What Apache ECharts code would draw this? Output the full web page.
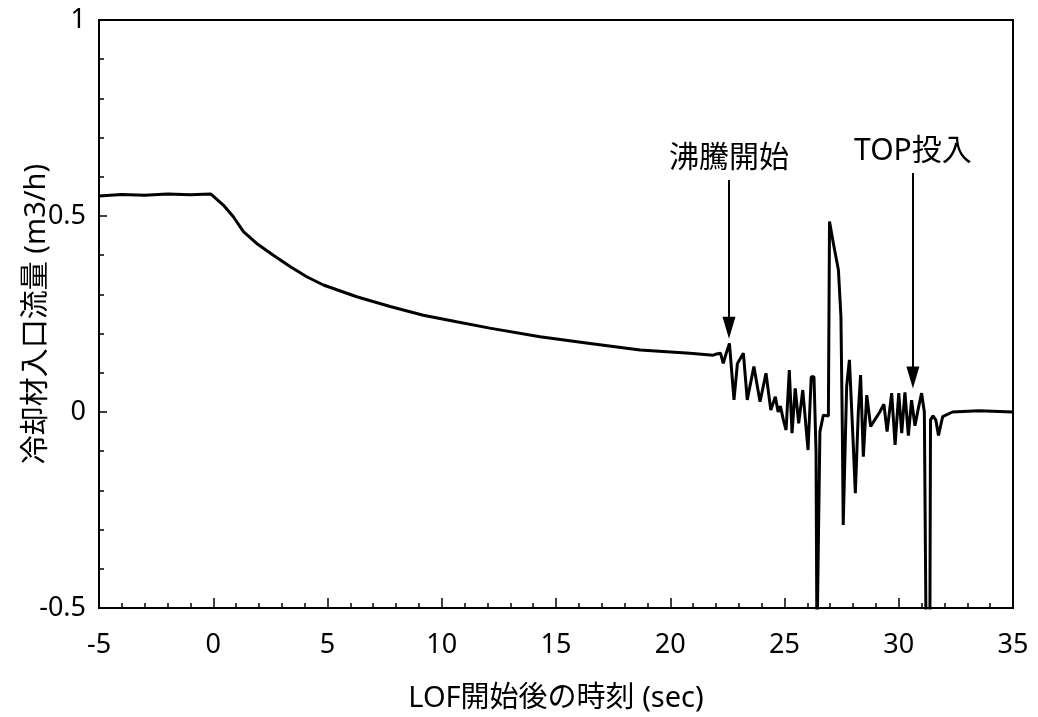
<!DOCTYPE html>
<html>
<head>
<meta charset="utf-8">
<script src="https://cdn.jsdelivr.net/npm/echarts@6/dist/echarts.min.js"></script>
<style>
html,body{margin:0;padding:0;background:#fff;}
#chart{width:1038px;height:717px;}
</style>
</head>
<body>
<div id="chart"></div>
<script>
// time (sec) after LOF start
var timeSec = [
  -5, -4, -3, -2, -1, -0.1, 0.44, 0.88, 1.32, 1.9, 2.63, 3.36, 4.09, 4.82, 6.28, 7.74, 9.19,
  10.65, 12.1, 14.3, 16.49, 18.68, 20.86, 21.88, 22.03, 22.2, 22.32, 22.45, 22.59, 22.79, 22.94,
  23.2, 23.37, 23.66, 23.93, 24.19, 24.4, 24.6, 24.72, 24.82, 24.95, 25.07, 25.21, 25.33, 25.47,
  25.62, 25.8, 26.03, 26.17, 26.29, 26.38, 26.42, 26.5, 26.55, 26.7, 26.92, 26.97, 27.14, 27.36,
  27.47, 27.53, 27.57, 27.72, 27.84, 28.0, 28.1, 28.23, 28.33, 28.45, 28.6, 28.77, 28.95, 29.17,
  29.35, 29.49, 29.69, 29.84, 30.0, 30.13, 30.27, 30.42, 30.56, 30.71, 30.86, 31.0, 31.12, 31.2,
  31.36, 31.39, 31.5, 31.62, 31.74, 31.92, 32.35, 33.5, 35
];
// coolant inlet flow (m3/h)
var flowValues = [
  0.551, 0.555, 0.553, 0.556, 0.554, 0.556, 0.528, 0.498, 0.46, 0.43, 0.40, 0.371, 0.345, 0.324, 0.294, 0.269, 0.247,
  0.230, 0.214, 0.192, 0.175, 0.158, 0.150, 0.145, 0.148, 0.150, 0.124, 0.150, 0.175, 0.031, 0.124,
  0.150, 0.031, 0.116, 0.026, 0.099, 0.005, 0.039, 0.0, 0.015, -0.02, -0.046, 0.107, -0.054, 0.060,
  -0.029, 0.056, -0.097, 0.09, 0.09, -0.1, -0.6, -0.6, -0.05, -0.008, -0.01, 0.486, 0.43, 0.362,
  0.243, -0.037, -0.288, 0.065, 0.133, -0.071, -0.207, 0.0, 0.094, -0.114, 0.043, -0.037, -0.02, 0.0,
  0.02, -0.05, 0.048, -0.084, 0.048, -0.054, 0.05, -0.06, 0.03, -0.035, 0.01, 0.048, 0.0, -0.6,
  -0.6, -0.02, -0.01, -0.02, -0.06, -0.012, 0.0, 0.003, 0.0
];
var xTicks = [-5, 0, 5, 10, 15, 20, 25, 30, 35];
var yTicks = [-0.5, 0, 0.5, 1];
var annotations = [
  { name: '沸騰開始', x: 22.57, yFrom: 0.592, yTo: 0.215 },
  { name: 'TOP投入', x: 30.62, yFrom: 0.61, yTo: 0.088 }
];

var FONT = "'Noto Sans', 'Noto Sans CJK JP', sans-serif";
var chart = echarts.init(document.getElementById('chart'), null, {renderer: 'canvas'});
var seriesData = timeSec.map(function (t, i) { return [t, flowValues[i]]; });

chart.setOption({
  animation: false,
  backgroundColor: '#fff',
  grid: {
    left: 99, right: 25, top: 20, bottom: 109,
    containLabel: false, outerBoundsMode: 'none',
    show: true, borderColor: '#000', borderWidth: 2, backgroundColor: 'transparent'
  },
  xAxis: {
    type: 'value',
    min: xTicks[0], max: xTicks[xTicks.length - 1], interval: 5,
    name: 'LOF開始後の時刻 (sec)',
    nameLocation: 'middle', nameGap: 76,
    nameTextStyle: { fontSize: 29, color: '#000', fontFamily: FONT },
    axisLine: { onZero: false, lineStyle: { color: '#000', width: 2 } },
    axisTick: { inside: true, length: 10, lineStyle: { color: '#000', width: 1.5 } },
    minorTick: { show: true, splitNumber: 5, length: 5, lineStyle: { color: '#000', width: 1.5 } },
    axisLabel: { fontSize: 27, color: '#000', margin: 24, fontFamily: FONT },
    splitLine: { show: false }
  },
  yAxis: {
    type: 'value',
    min: yTicks[0], max: yTicks[yTicks.length - 1], interval: 0.5,
    name: '冷却材入口流量 (m3/h)',
    nameLocation: 'middle', nameGap: 48, nameMoveOverlap: false,
    nameTextStyle: { fontSize: 29, color: '#000', fontFamily: FONT },
    axisLine: { onZero: false, lineStyle: { color: '#000', width: 2 } },
    axisTick: { inside: true, length: 8, lineStyle: { color: '#000', width: 1.5 } },
    minorTick: { show: true, splitNumber: 5, length: 5, lineStyle: { color: '#000', width: 1.5 } },
    axisLabel: { fontSize: 27, color: '#000', margin: 13, fontFamily: FONT },
    splitLine: { show: false }
  },
  series: [{
    type: 'line',
    data: seriesData,
    showSymbol: false,
    clip: true,
    lineStyle: { color: '#000', width: 3 },
    markLine: {
      silent: true,
      symbol: ['none', 'triangle'],
      symbolSize: [13, 22],
      symbolRotate: 180,
      lineStyle: { color: '#000', width: 2, type: 'solid' },
      label: {
        show: true, position: 'start', distance: 6,
        fontSize: 30, color: '#000', fontFamily: FONT,
        formatter: function (p) { return p.name; }
      },
      data: annotations.map(function (a) {
        return [{ name: a.name, coord: [a.x, a.yFrom] }, { coord: [a.x, a.yTo] }];
      })
    }
  }]
});
</script>
</body>
</html>
